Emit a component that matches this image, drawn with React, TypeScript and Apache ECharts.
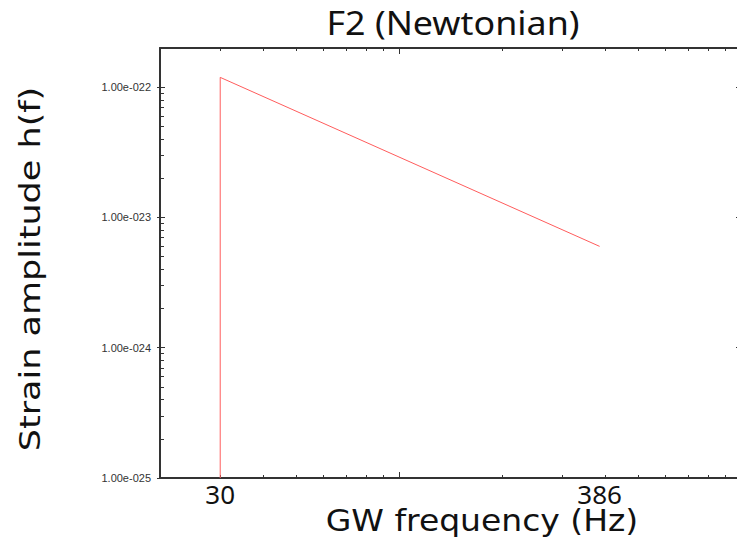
import React, { useEffect, useRef } from "react";
import * as echarts from "echarts";

// Data (GW frequency in Hz, strain amplitude)
const freqs = [30, 30, 386];
const strain = [1e-25, 1.19e-22, 6.0e-24];

// The y axis is drawn in units of 1e-25 (log scale), labels converted back
const Y_UNIT = 1e-25;

// Tick values
const xLabelTicks = [30, 386];
const xMajorTicks = [100, 1000];
const xMinorTicks = [30, 40, 50, 60, 70, 80, 90, 200, 300, 400, 500, 600, 700, 800, 900];
const yMajorTicks = [1e-25, 1e-24, 1e-23, 1e-22];
const yMinorMantissa = [2, 3, 4, 5, 6, 7, 8, 9];
const yMinorDecades = [1e-25, 1e-24, 1e-23];
const yMinStrain = 1e-25;
const yMaxStrain = 2e-22;

const yMajorU = yMajorTicks.map((v) => Math.round(v / Y_UNIT));
const yMinorU: number[] = [];
yMinorDecades.forEach((d) => yMinorMantissa.forEach((m) => yMinorU.push(Math.round((m * d) / Y_UNIT))));
yMinorU.push(Math.round(yMaxStrain / Y_UNIT));

const AXIS_COLOR = "#333";

function fmtExp(v: number) {
  const s = v.toExponential(2);
  const [m, e] = s.split("e");
  const sign = e[0];
  const digits = e.slice(1).padStart(3, "0");
  return m + "e" + sign + digits;
}

export default function App() {
  const ref = useRef<HTMLDivElement>(null);
  useEffect(() => {
    if (!ref.current) return;
    const chart = echarts.init(ref.current, null, { renderer: "svg" });
    const xBase = { type: "log", min: 20, max: 1000, logBase: 10, splitLine: { show: false } };
    const yBase = {
      type: "log",
      min: Math.round(yMinStrain / Y_UNIT),
      max: Math.round(yMaxStrain / Y_UNIT),
      logBase: 10,
      splitLine: { show: false },
    };
    const option: any = {
      animation: false,
      backgroundColor: "#fff",
      grid: { left: 160, top: 48, right: -4, bottom: 66, containLabel: false, outerBoundsMode: "none" },
      xAxis: [
        {
          ...xBase,
          position: "bottom",
          axisLine: { show: true, onZero: false, lineStyle: { color: AXIS_COLOR, width: 2 } },
          axisTick: { show: true, inside: true, length: 3, customValues: xMinorTicks, lineStyle: { color: AXIS_COLOR } },
          axisLabel: {
            show: true,
            customValues: xLabelTicks,
            margin: 3,
            fontSize: 26,
            color: "#111",
            fontFamily: "Noto Sans",
            formatter: (v: number) => String(Math.round(v)),
          },
        },
        {
          ...xBase,
          position: "bottom",
          axisLine: { show: false, onZero: false },
          axisTick: { show: true, inside: true, length: 6, customValues: xMajorTicks, lineStyle: { color: AXIS_COLOR } },
          axisLabel: { show: false },
        },
        {
          ...xBase,
          position: "top",
          axisLine: { show: true, onZero: false, lineStyle: { color: AXIS_COLOR, width: 2 } },
          axisTick: { show: true, inside: true, length: 3, customValues: xMinorTicks, lineStyle: { color: AXIS_COLOR } },
          axisLabel: { show: false },
        },
        {
          ...xBase,
          position: "top",
          axisLine: { show: false, onZero: false },
          axisTick: { show: true, inside: true, length: 6, customValues: xMajorTicks, lineStyle: { color: AXIS_COLOR } },
          axisLabel: { show: false },
        },
      ],
      yAxis: [
        {
          ...yBase,
          position: "left",
          axisLine: { show: true, onZero: false, lineStyle: { color: AXIS_COLOR, width: 2 } },
          axisTick: { show: true, inside: true, length: 4, customValues: yMinorU, lineStyle: { color: AXIS_COLOR } },
          axisLabel: {
            show: true,
            customValues: yMajorU,
            margin: 9,
            fontSize: 11,
            color: "#333",
            fontFamily: "Liberation Sans",
            formatter: (v: number) => fmtExp(v * Y_UNIT),
          },
        },
        {
          ...yBase,
          position: "left",
          axisLine: { show: false, onZero: false },
          axisTick: { show: true, inside: true, length: 5, customValues: yMajorU, lineStyle: { color: AXIS_COLOR } },
          axisLabel: { show: false },
        },
        {
          ...yBase,
          position: "left",
          axisLine: { show: false, onZero: false },
          axisTick: { show: true, inside: false, length: 3, customValues: yMajorU, lineStyle: { color: AXIS_COLOR } },
          axisLabel: { show: false },
        },
        {
          ...yBase,
          position: "right",
          axisLine: { show: true, onZero: false, lineStyle: { color: AXIS_COLOR, width: 2 } },
          axisTick: { show: true, inside: true, length: 5, customValues: yMajorU, lineStyle: { color: AXIS_COLOR } },
          axisLabel: { show: false },
        },
      ],
      graphic: [
        {
          type: "text",
          x: 453,
          y: 23,
          scaleX: 1.12,
          style: {
            text: "F2 (Newtonian)",
            fontSize: 32,
            fontFamily: "Noto Sans",
            fill: "#111",
            textAlign: "center",
            textVerticalAlign: "middle",
          },
        },
        {
          type: "text",
          x: 482,
          y: 521,
          scaleX: 1.1,
          style: {
            text: "GW frequency (Hz)",
            fontSize: 30,
            fontFamily: "DejaVu Sans",
            fill: "#111",
            textAlign: "center",
            textVerticalAlign: "middle",
          },
        },
        {
          type: "text",
          x: 30,
          y: 269,
          rotation: Math.PI / 2,
          scaleX: 1.25,
          style: {
            text: "Strain amplitude h(f)",
            fontSize: 28,
            fontFamily: "DejaVu Sans",
            fill: "#111",
            textAlign: "center",
            textVerticalAlign: "middle",
          },
        },
      ],
      series: [
        {
          type: "line",
          xAxisIndex: 0,
          yAxisIndex: 0,
          data: freqs.map((f, i) => [f, strain[i] / Y_UNIT]),
          showSymbol: false,
          symbol: "none",
          lineStyle: { color: "#ff5c5c", width: 1 },
        },
      ],
    };
    chart.setOption(option);
    return () => chart.dispose();
  }, []);
  return <div ref={ref} style={{ position: "fixed", left: 0, top: 0, width: 737, height: 544 }} />;
}
